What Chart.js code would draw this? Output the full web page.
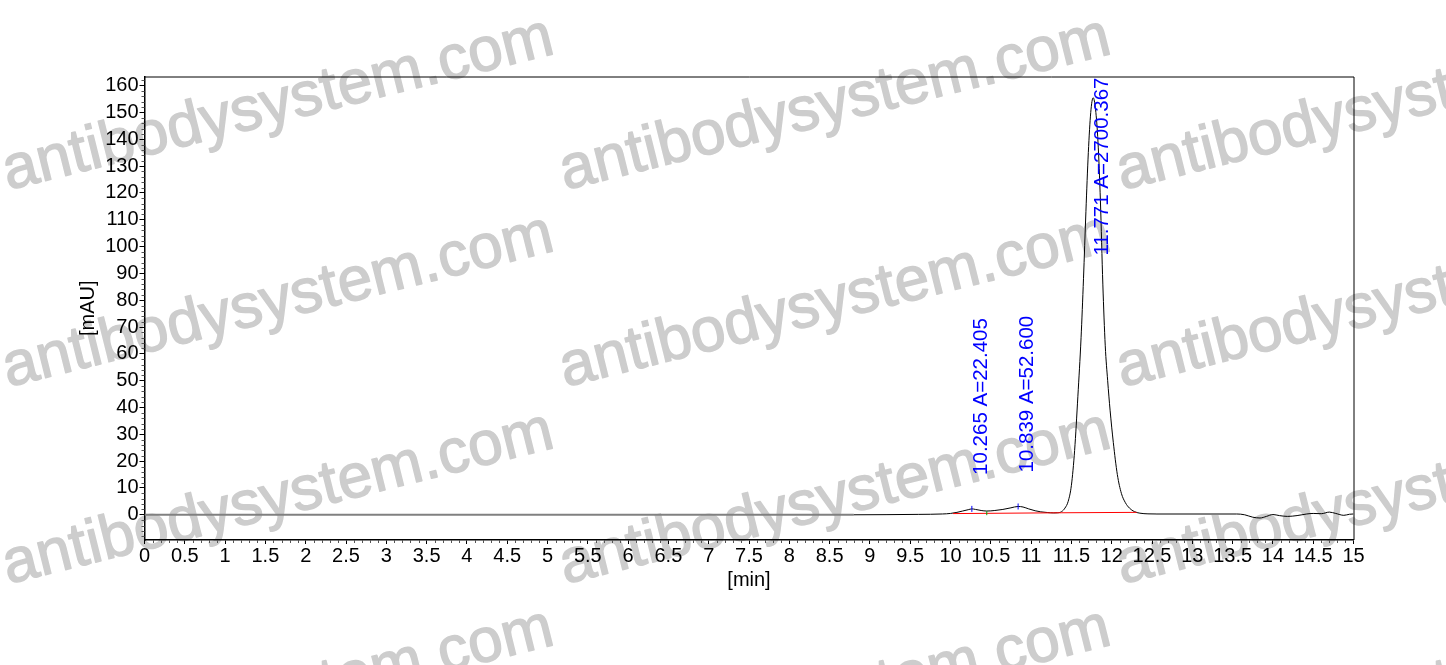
<!DOCTYPE html>
<html lang="en">
<head>
  <meta charset="UTF-8" />
  <title>Chromatogram</title>
  <script src="https://cdn.jsdelivr.net/npm/chart.js"></script>
  <style>
    html, body { margin: 0; padding: 0; background: #fff; }
    canvas { display: block; }
  </style>
</head>
<body>
  <canvas id="chrom" width="1446" height="665"></canvas>

  <script>
    // signal trace (min, mAU)
    const times = [0, 8.8, 9.2, 9.6, 9.9, 10.0, 10.08, 10.15, 10.22, 10.265, 10.31, 10.38, 10.45, 10.55, 10.65, 10.75, 10.839, 10.9, 10.97, 11.05, 11.12, 11.2, 11.28, 11.33, 11.38, 11.42, 11.46, 11.5, 11.54, 11.58, 11.62, 11.65, 11.68, 11.71, 11.74, 11.77, 11.8, 11.83, 11.86, 11.89, 11.92, 11.95, 11.98, 12.02, 12.07, 12.12, 12.17, 12.22, 12.28, 12.35, 12.45, 12.55, 13.55, 13.65, 13.75, 13.84, 13.92, 14.0, 14.08, 14.18, 14.3, 14.42, 14.5, 14.6, 14.7, 14.78, 14.88, 14.95, 15.0];
    const signal = [0, 0, 0.05, 0.15, 0.3, 0.5, 0.9, 1.4, 1.9, 2.2, 2.0, 1.6, 1.4, 1.6, 2.0, 2.6, 3.1, 2.9, 2.2, 1.5, 1.1, 0.85, 0.7, 0.75, 1.2, 2.5, 5, 11, 24, 44, 66, 88, 113, 135, 150, 155.5, 151, 139, 117, 86, 63, 50, 39, 27, 15, 8, 4.5, 2.5, 1.2, 0.6, 0.35, 0.3, 0.3, 0.0, -0.9, -1.2, -0.6, 0.1, -0.3, -0.6, -0.3, 0.3, 0.5, 0.4, 1.0, 0.5, -0.2, 0.2, 0.3];

    // integration baseline (red)
    const baseTimes = [10.03, 11.38, 12.31];
    const baseValues = [0.45, 0.75, 0.9];

    // peak table
    const peakTimes = [10.265, 10.839, 11.771];
    const peakHeights = [2.2, 3.1, 155.5];
    const peakLabels = ['10.265 A=22.405', '10.839 A=52.600', '11.771 A=2700.367'];
    const valleyTimes = [10.45];
    const valleyValues = [0.6];

    const xTicks = [0, 0.5, 1, 1.5, 2, 2.5, 3, 3.5, 4, 4.5, 5, 5.5, 6, 6.5, 7, 7.5, 8, 8.5, 9, 9.5, 10, 10.5, 11, 11.5, 12, 12.5, 13, 13.5, 14, 14.5, 15];
    const yTicks = [0, 10, 20, 30, 40, 50, 60, 70, 80, 90, 100, 110, 120, 130, 140, 150, 160];

    const FONT = 'Arial, "Liberation Sans", sans-serif';

    const watermark = {
      id: 'watermark',
      beforeDraw(chart) {
        const ctx = chart.ctx;
        ctx.save();
        ctx.fillStyle = '#cdcdcd';
        ctx.strokeStyle = '#cdcdcd';
        ctx.lineWidth = 1.4;
        ctx.lineJoin = 'round';
        ctx.font = '62px ' + FONT;
        ctx.textBaseline = 'alphabetic';
        const cols = [8, 565, 1122];
        const rows = [190, 387, 584, 781];
        rows.forEach(ry => cols.forEach(cx => {
          ctx.save();
          ctx.translate(cx, ry);
          ctx.rotate(-14 * Math.PI / 180);
          ctx.fillText('antibodysystem.com', 0, 0);
          ctx.strokeText('antibodysystem.com', 0, 0);
          ctx.restore();
        }));
        ctx.restore();
      }
    };

    const decor = {
      id: 'decor',
      afterDatasetsDraw(chart) {
        const ctx = chart.ctx;
        const a = chart.chartArea;
        const xs = chart.scales.x, ys = chart.scales.y;
        ctx.save();

        // frame top + right
        ctx.strokeStyle = '#000';
        ctx.lineWidth = 1;
        ctx.beginPath();
        ctx.moveTo(a.left, a.top + 0.5);
        ctx.lineTo(a.right + 0.5, a.top + 0.5);
        ctx.lineTo(a.right + 0.5, a.bottom);
        ctx.stroke();

        // minor ticks
        ctx.strokeStyle = '#555';
        ctx.beginPath();
        for (let i = 1; i < 150; i++) {
          if (i % 5 === 0) continue;
          const px = Math.round(xs.getPixelForValue(i / 10)) + 0.5;
          ctx.moveTo(px, a.bottom);
          ctx.lineTo(px, a.bottom + 3);
        }
        for (let v = -8; v <= 162; v += 2) {
          if (v % 10 === 0) continue;
          const py = Math.round(ys.getPixelForValue(v)) + 0.5;
          ctx.moveTo(a.left, py);
          ctx.lineTo(a.left - 3, py);
        }
        ctx.stroke();

        // peak labels
        ctx.fillStyle = '#0000ff';
        ctx.font = '20.5px ' + FONT;
        ctx.textAlign = 'left';
        ctx.textBaseline = 'middle';
        peakTimes.forEach((t, i) => {
          const px = xs.getPixelForValue(t);
          const py = ys.getPixelForValue(peakHeights[i]);
          const w = ctx.measureText(peakLabels[i]).width;
          let bottom = py - 34;
          if (bottom - w < a.top + 1) bottom = a.top + 1 + w;
          ctx.save();
          ctx.translate(px + 9, bottom);
          ctx.rotate(-Math.PI / 2);
          ctx.fillText(peakLabels[i], 0, 0);
          ctx.restore();
        });

        // axis titles
        ctx.fillStyle = '#000';
        ctx.font = '20px ' + FONT;
        ctx.textAlign = 'center';
        ctx.fillText('[min]', (a.left + a.right) / 2, 580);
        ctx.save();
        ctx.translate(88, (a.top + a.bottom) / 2);
        ctx.rotate(-Math.PI / 2);
        ctx.fillText('[mAU]', 0, 0);
        ctx.restore();

        ctx.restore();
      }
    };

    const flat = c => c.p0.parsed.y === c.p1.parsed.y;

    new Chart(document.getElementById('chrom').getContext('2d'), {
      type: 'line',
      data: {
        datasets: [
          {
            data: times.map((t, i) => ({ x: t, y: signal[i] })),
            borderColor: '#000',
            borderWidth: 1,
            pointRadius: 0,
            cubicInterpolationMode: 'monotone',
            segment: {
              borderColor: c => flat(c) ? '#808080' : '#000',
              borderWidth: c => flat(c) ? 2 : 1
            },
            order: 2
          },
          {
            data: baseTimes.map((t, i) => ({ x: t, y: baseValues[i] })),
            borderColor: '#ff0000',
            borderWidth: 1,
            pointRadius: 0,
            order: 1
          },
          {
            data: peakTimes.slice(0, 2).map((t, i) => ({ x: t, y: peakHeights[i] })),
            showLine: false,
            pointStyle: 'line',
            rotation: 90,
            radius: 3,
            borderColor: '#0000ff',
            borderWidth: 1,
            order: 0
          },
          {
            data: valleyTimes.map((t, i) => ({ x: t, y: valleyValues[i] })),
            showLine: false,
            pointStyle: 'line',
            rotation: 90,
            radius: 2,
            borderColor: '#00a000',
            borderWidth: 1,
            order: 0
          }
        ]
      },
      options: {
        responsive: false,
        animation: false,
        layout: { padding: { left: 0, top: 76.5, right: 92.5, bottom: 0 } },
        plugins: { legend: { display: false }, tooltip: { enabled: false } },
        scales: {
          x: {
            type: 'linear',
            min: 0,
            max: 15,
            afterBuildTicks: s => { s.ticks = xTicks.map(v => ({ value: v })); },
            afterFit: s => { s.height = 125; },
            ticks: {
              autoSkip: false,
              maxRotation: 0,
              color: '#000',
              padding: 0,
              font: { family: FONT, size: 20 },
              callback: v => String(v)
            },
            grid: { display: true, drawOnChartArea: false, tickLength: 4, color: '#000' },
            border: { color: '#000', width: 1.5 }
          },
          y: {
            min: -9.4,
            max: 163.4,
            afterBuildTicks: s => { s.ticks = yTicks.map(v => ({ value: v })); },
            afterFit: s => { s.width = 144.5; },
            ticks: {
              autoSkip: false,
              color: '#000',
              padding: 1,
              font: { family: FONT, size: 20 },
              callback: v => String(v)
            },
            grid: { display: true, drawOnChartArea: false, tickLength: 5, color: '#000' },
            border: { color: '#000', width: 1.5 }
          }
        }
      },
      plugins: [watermark, decor]
    });
  </script>
</body>
</html>
